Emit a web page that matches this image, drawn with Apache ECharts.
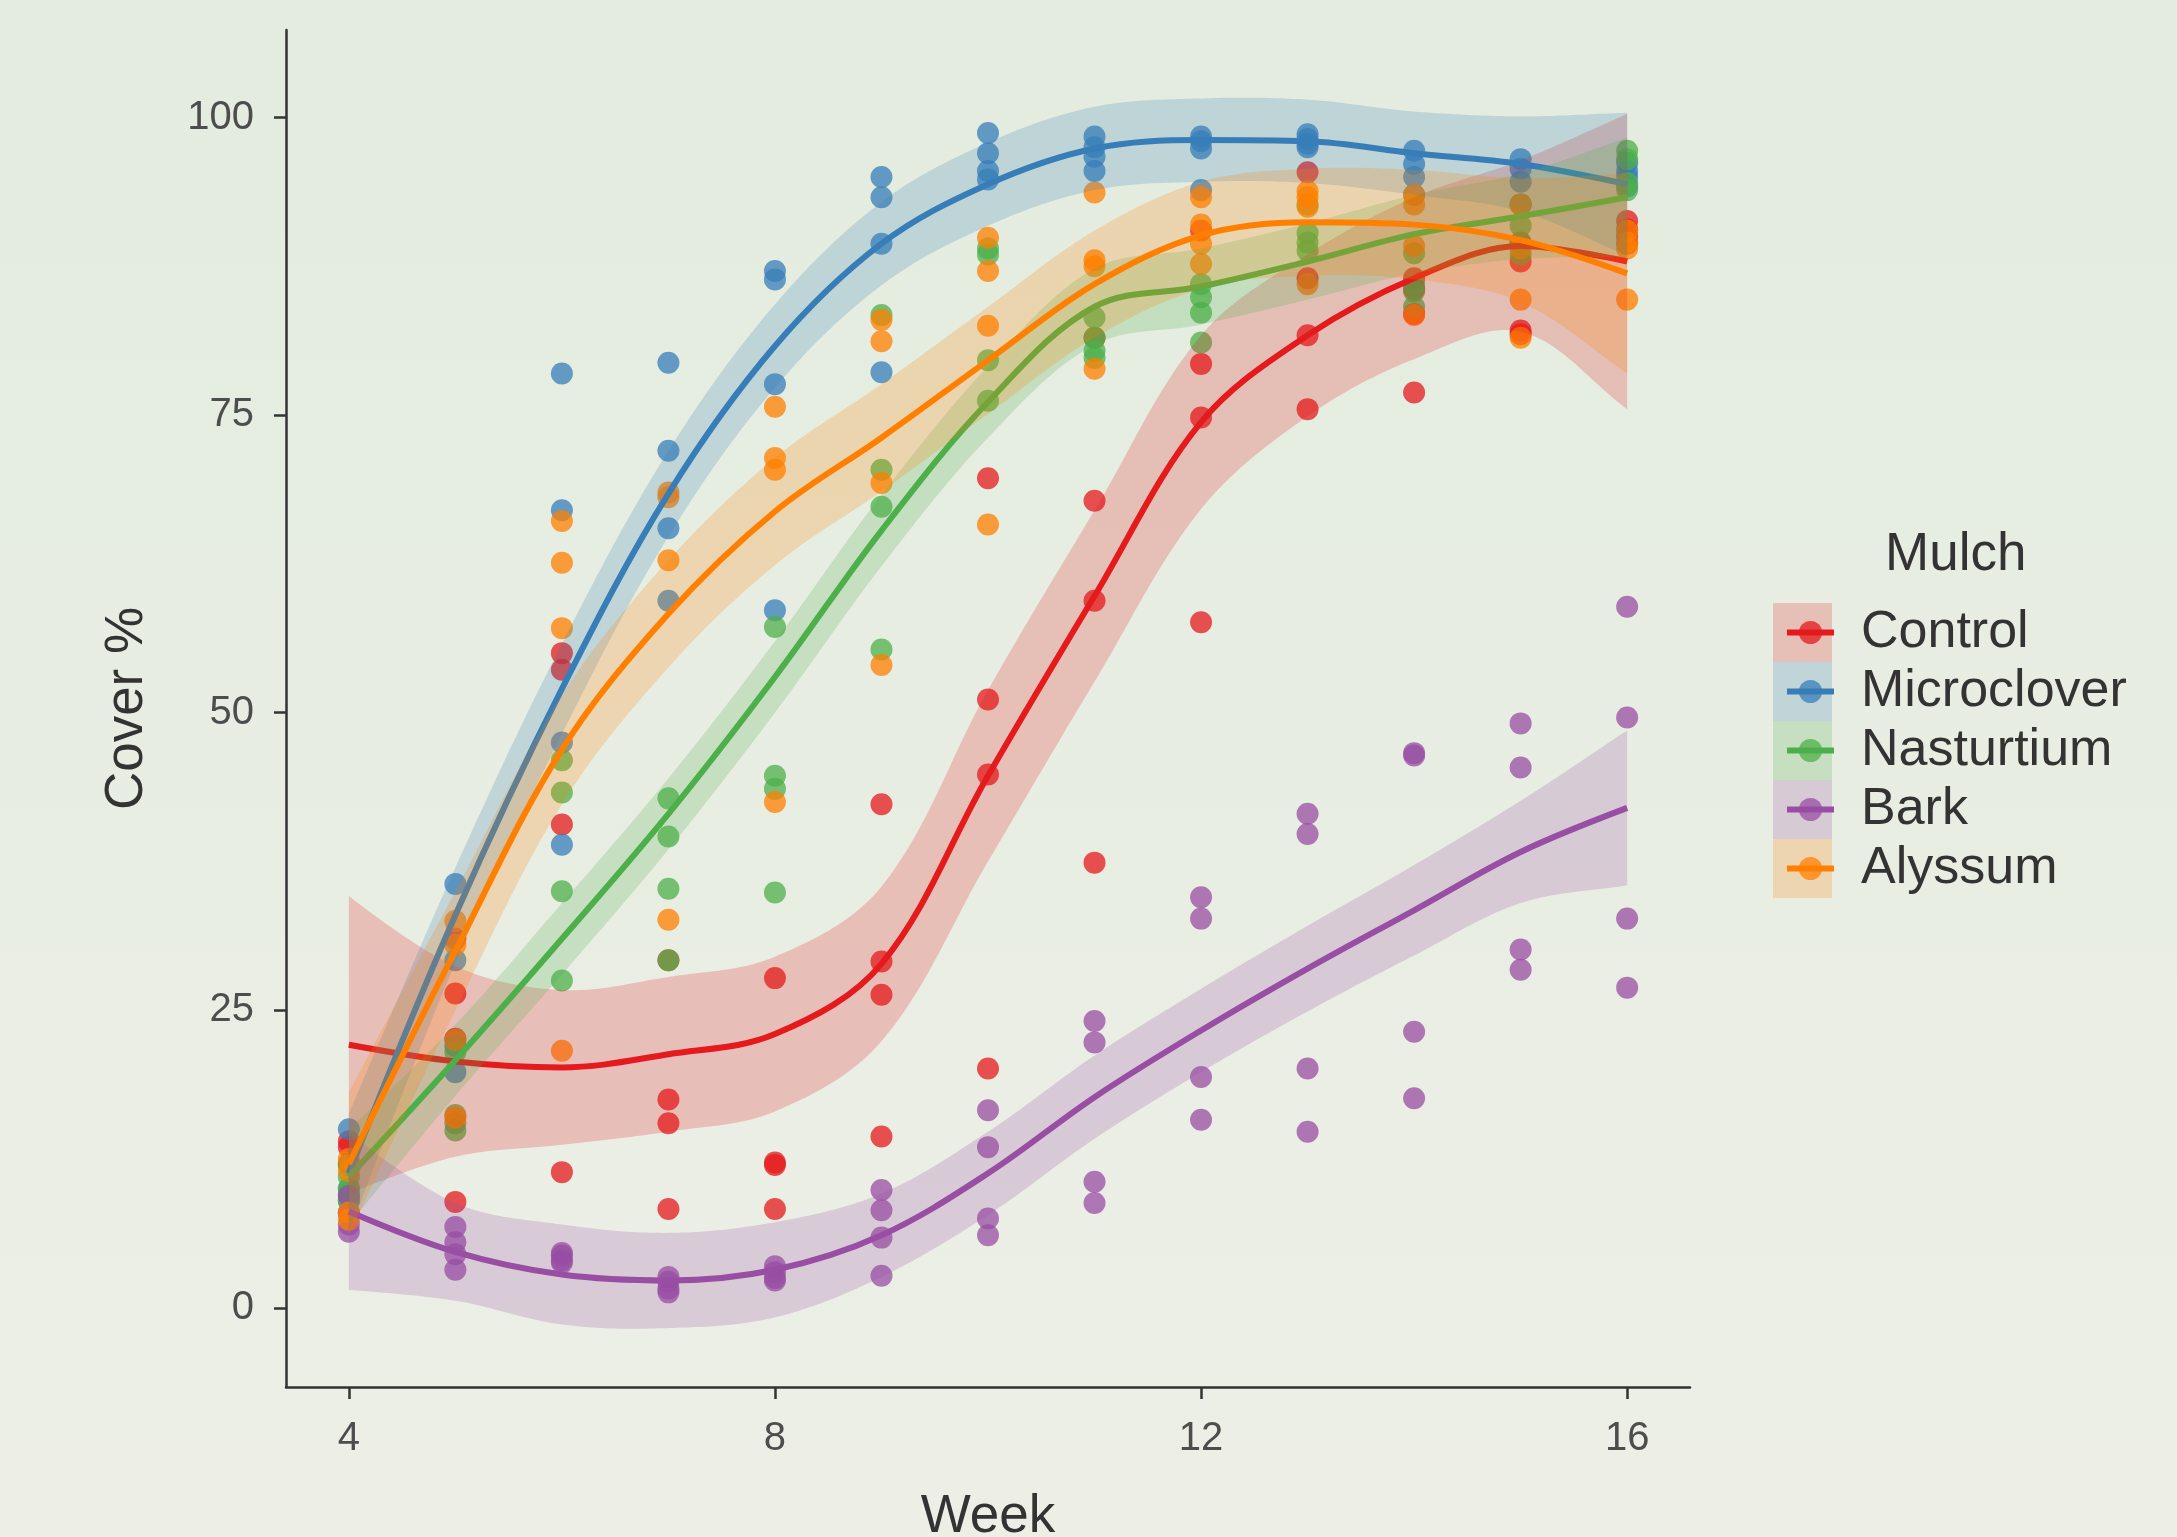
<!DOCTYPE html>
<html>
<head>
<meta charset="utf-8">
<script src="https://cdn.jsdelivr.net/npm/echarts@6/dist/echarts.min.js"></script>
<style>
html,body{margin:0;padding:0;background:#e8eee2;}
#chart{width:2177px;height:1537px;}
</style>
</head>
<body>
<div id="chart"></div>
<script>
// ---------- data ----------
const weeks = [4, 5, 6, 7, 8, 9, 10, 11, 12, 13, 14, 15, 16];
const mulches = ['Control', 'Microclover', 'Nasturtium', 'Bark', 'Alyssum'];
const xTicks = [4, 8, 12, 16];
const yTicks = [0, 25, 50, 75, 100];

// observed cover % per week (4 replicates each)
const controlPts = [[14,13.5,12.1,8],[31,26.4,22.6,8.9],[55,53.6,40.6,11.4],[29.2,17.5,15.5,8.3],[27.7,12.2,12,8.3],[42.3,29.1,26.3,14.4],[69.7,51.1,44.8,20.1],[81.5,67.8,59.4,37.4],[90.5,79.3,74.8,57.6],[95.4,86.5,81.7,75.5],[86.5,85.6,83.5,76.9],[89.5,87.9,82.1,81.8],[91.3,90.6,90,89.4]];
const microPts = [[15,10,9.5,9],[35.6,29.2,22,19.8],[78.5,67,47.5,38.9],[79.4,72,65.5,59.4],[87.1,86.4,77.6,58.6],[95,93.3,89.4,78.6],[98.7,97,95.5,94.8],[98.4,97.5,96.7,95.5],[98.4,98,97.4,93.9],[98.6,98.2,97.8,97.5],[97.2,96.1,95,93.5],[96.5,95.7,94.6,92.7],[96.2,95.5,95,94.2]];
const nastPts = [[12,11,10,9],[21.5,16.2,15.5,14.9],[46,43.3,35,27.5],[42.8,39.6,35.2,29.2],[57.2,44.7,43.6,34.9],[83.4,70.4,67.3,55.3],[89,88.5,79.6,76.2],[83.2,81.5,80.4,79.8],[86,84.9,83.6,81.1],[92.7,90.3,89.5,88.8],[88.6,86,85.4,84.1],[92.7,90.9,89.4,88.5],[97.2,96.5,94.5,93.9]];
const barkPts = [[9.4,7.9,7,6.4],[6.8,5.5,4.5,3.2],[4.6,4.4,4,3.8],[2.6,2.2,1.6,1.3],[3.5,3,2.5,2.3],[9.9,8.2,5.9,2.7],[16.6,13.5,7.5,6.1],[24.1,22.3,10.6,8.8],[34.5,32.7,19.4,15.8],[41.5,39.8,20.1,14.8],[46.6,46.4,23.2,17.6],[49.1,45.4,30.1,28.4],[58.9,49.6,32.7,26.9]];
const alyPts = [[12.5,11.5,8,7.4],[32.5,30.5,22.5,16],[66.1,62.6,57.1,21.6],[68.5,68.1,62.8,32.6],[75.7,71.4,70.4,42.5],[83,81.2,69.3,54],[89.9,87.1,82.5,65.8],[93.7,88,87.5,78.9],[93.3,91,89.4,87.7],[93.8,93.3,92.5,86],[93.5,92.7,89.2,83.4],[92.7,89,84.7,81.5],[90.5,89.5,89,84.7]];

// smoothed trend per week
const controlFit = [22.1, 20.7, 20.2, 21.3, 23.0, 28.9, 44.7, 59.8, 74.4, 81.7, 86.5, 89.2, 87.9];
const microFit   = [11.3, 33, 52, 68.4, 80.8, 89.4, 94.4, 97.4, 98.1, 98.0, 97.0, 96.1, 94.4];
const nastFit    = [11, 20.8, 31, 41.5, 53, 65.3, 76.1, 84.1, 85.8, 87.9, 90.2, 91.7, 93.3];
const barkFit    = [8.1, 4.7, 2.8, 2.3, 3.2, 6.1, 11.3, 17.7, 23.3, 28.5, 33.4, 38.3, 42];
const alyFit     = [12.1, 30, 46.9, 58.3, 66.9, 73.1, 79.6, 86.0, 90.1, 91.2, 91.0, 89.7, 86.9];

// confidence band (lower / upper)
const controlLo = [9.6, 12.7, 13.7, 14.8, 16.5, 22.4, 37.5, 52.6, 67.1, 74.9, 79.7, 82.0, 75.5];
const controlHi = [34.6, 28.7, 26.7, 27.8, 29.5, 35.4, 51.9, 67.0, 81.7, 88.5, 93.3, 96.4, 100.3];
const microLo = [6.3, 29, 48.2, 64.8, 77.3, 85.9, 90.9, 93.9, 94.6, 94.5, 93.5, 92.1, 88.4];
const microHi = [16.3, 37, 55.8, 72.0, 84.3, 92.9, 97.9, 100.9, 101.6, 101.5, 100.5, 100.1, 100.4];
const nastLo = [7, 17.8, 28, 38.5, 50, 62.3, 73.1, 80.9, 82.6, 84.7, 86.9, 88.1, 88.3];
const nastHi = [15, 23.8, 34, 44.5, 56, 68.3, 79.1, 87.3, 89.0, 91.1, 93.5, 95.3, 98.3];
const barkLo = [1.5, 0.6, -1.4, -1.7, -0.8, 2.6, 7.8, 14.2, 19.8, 24.9, 29.6, 34.0, 35.5];
const barkHi = [14.7, 8.8, 7.0, 6.3, 7.2, 9.6, 14.8, 21.2, 26.8, 32.1, 37.2, 42.6, 48.5];
const alyLo = [6.1, 25, 42.3, 53.8, 62.4, 68.6, 75.1, 81.5, 85.6, 86.7, 86.4, 84.5, 78.5];
const alyHi = [18.1, 35, 51.5, 62.8, 71.4, 77.6, 84.1, 90.5, 94.6, 95.7, 95.6, 94.9, 95.3];

// ---------- styling ----------
const colors = ['#E41A1C', '#377EB8', '#4DAF4A', '#984EA3', '#FF7F00'];
const FONT = '"Liberation Sans", Arial, sans-serif';
const SMOOTH = 0.35;
const BAND_ALPHA = 0.22;

const pointSets = [controlPts, microPts, nastPts, barkPts, alyPts];
const fitSets = [controlFit, microFit, nastFit, barkFit, alyFit];
const loSets = [controlLo, microLo, nastLo, barkLo, alyLo];
const hiSets = [controlHi, microHi, nastHi, barkHi, alyHi];

function rgba(hex, a) {
  const n = parseInt(hex.slice(1), 16);
  return 'rgba(' + (n >> 16) + ',' + ((n >> 8) & 255) + ',' + (n & 255) + ',' + a + ')';
}

// same bezier construction as echarts' smoothed line, sampled for a polygon
function smoothSample(p, s) {
  const out = [p[0]];
  let c0 = p[0];
  for (let k = 1; k < p.length; k++) {
    const cur = p[k], prev = p[k - 1], next = p[k + 1] || cur;
    const vx = next[0] - prev[0], vy = next[1] - prev[1];
    const d0 = Math.hypot(cur[0] - prev[0], cur[1] - prev[1]);
    const d1 = Math.hypot(next[0] - cur[0], next[1] - cur[1]);
    const r = (d0 + d1) ? d1 / (d0 + d1) : 0;
    const c1 = [cur[0] - vx * s * (1 - r), cur[1] - vy * s * (1 - r)];
    const N = 24;
    for (let t = 1; t <= N; t++) {
      const u = t / N, m = 1 - u;
      const a = m * m * m, b = 3 * m * m * u, c = 3 * m * u * u, d = u * u * u;
      out.push([a * prev[0] + b * c0[0] + c * c1[0] + d * cur[0],
                a * prev[1] + b * c0[1] + c * c1[1] + d * cur[1]]);
    }
    c0 = [cur[0] + vx * s * r, cur[1] + vy * s * r];
  }
  return out;
}

const series = [];
// fitted lines first (legend uses them for the icon)
mulches.forEach(function (name, i) {
  series.push({
    type: 'line', name: name, z: 4 + 2 * i,
    data: weeks.map(function (w, k) { return [w, fitSets[i][k]]; }),
    smooth: SMOOTH, showSymbol: false, symbol: 'circle', symbolSize: 23,
    lineStyle: { color: colors[i], width: 6 },
    itemStyle: { color: colors[i] },
    silent: true
  });
});
// bands
mulches.forEach(function (name, i) {
  series.push({
    type: 'custom', name: name + ' band', z: 3 + 2 * i, silent: true,
    data: weeks.map(function (w, k) { return [w, loSets[i][k], hiSets[i][k]]; }),
    encode: { x: 0, y: [1, 2] },
    renderItem: function (params, api) {
      if (params.dataIndexInside !== 0) return null;
      const n = params.dataInsideLength;
      const up = [], dn = [];
      for (let k = 0; k < n; k++) {
        const x = api.value(0, k);
        up.push(api.coord([x, api.value(2, k)]));
        dn.push(api.coord([x, api.value(1, k)]));
      }
      const pts = smoothSample(up, SMOOTH).concat(smoothSample(dn, SMOOTH).reverse());
      return { type: 'polygon', shape: { points: pts }, style: { fill: rgba(colors[i], BAND_ALPHA) } };
    }
  });
});
// observed points
mulches.forEach(function (name, i) {
  const d = [];
  pointSets[i].forEach(function (vals, k) { vals.forEach(function (v) { d.push([weeks[k], v]); }); });
  series.push({
    type: 'scatter', name: name, z: 2, data: d,
    symbol: 'circle', symbolSize: 22,
    itemStyle: { color: colors[i], opacity: 0.75 },
    silent: true
  });
});

const chart = echarts.init(document.getElementById('chart'));
chart.setOption({
  animation: false,
  backgroundColor: {
    type: 'linear', x: 0, y: 0, x2: 0, y2: 1,
    colorStops: [{ offset: 0, color: '#E3ECDF' }, { offset: 1, color: '#EDEFE6' }]
  },
  textStyle: { fontFamily: FONT },
  title: {
    text: 'Mulch', left: 1880, top: 524,
    textStyle: { fontSize: 53, fontWeight: 'normal', color: '#333', fontFamily: FONT }
  },
  legend: {
    data: mulches, orient: 'vertical', left: 1779, top: 598,
    itemWidth: 47, itemHeight: 29, itemGap: 0, selectedMode: false,
    itemStyle: { opacity: 0.75 },
    lineStyle: { width: 6 },
    textStyle: { fontSize: 52, color: '#333', fontFamily: FONT, lineHeight: 59, padding: [0, 0, 0, 22] }
  },
  graphic: mulches.map(function (n, i) {
    return {
      type: 'rect', left: 1773, top: 603 + 59 * i, z: 1, silent: true,
      shape: { width: 59, height: 59 },
      style: { fill: rgba(colors[i], BAND_ALPHA) }
    };
  }),
  grid: { left: 286, right: 487, top: 30, bottom: 150, outerBoundsMode: 'none', containLabel: false },
  xAxis: {
    type: 'value', min: 3.41, max: 16.59,
    splitLine: { show: false },
    axisLine: { show: true, onZero: false, lineStyle: { color: '#333', width: 2.5 } },
    axisTick: { show: true, length: 12, customValues: xTicks, lineStyle: { color: '#333', width: 2.5 } },
    axisLabel: { customValues: xTicks, fontSize: 40, color: '#4D4D4D', margin: 32, fontFamily: FONT },
    name: 'Week', nameLocation: 'middle', nameGap: 104,
    nameTextStyle: { fontSize: 53, color: '#333', fontFamily: FONT }
  },
  yAxis: {
    type: 'value', min: -6.65, max: 107.35,
    splitLine: { show: false },
    axisLine: { show: true, onZero: false, lineStyle: { color: '#333', width: 2.5 } },
    axisTick: { show: true, length: 12, customValues: yTicks, lineStyle: { color: '#333', width: 2.5 } },
    axisLabel: { customValues: yTicks, fontSize: 40, color: '#4D4D4D', margin: 32, fontFamily: FONT },
    name: 'Cover %', nameLocation: 'middle', nameGap: 132, nameRotate: 90,
    nameTextStyle: { fontSize: 53, color: '#333', fontFamily: FONT }
  },
  series: series
});
</script>
</body>
</html>
